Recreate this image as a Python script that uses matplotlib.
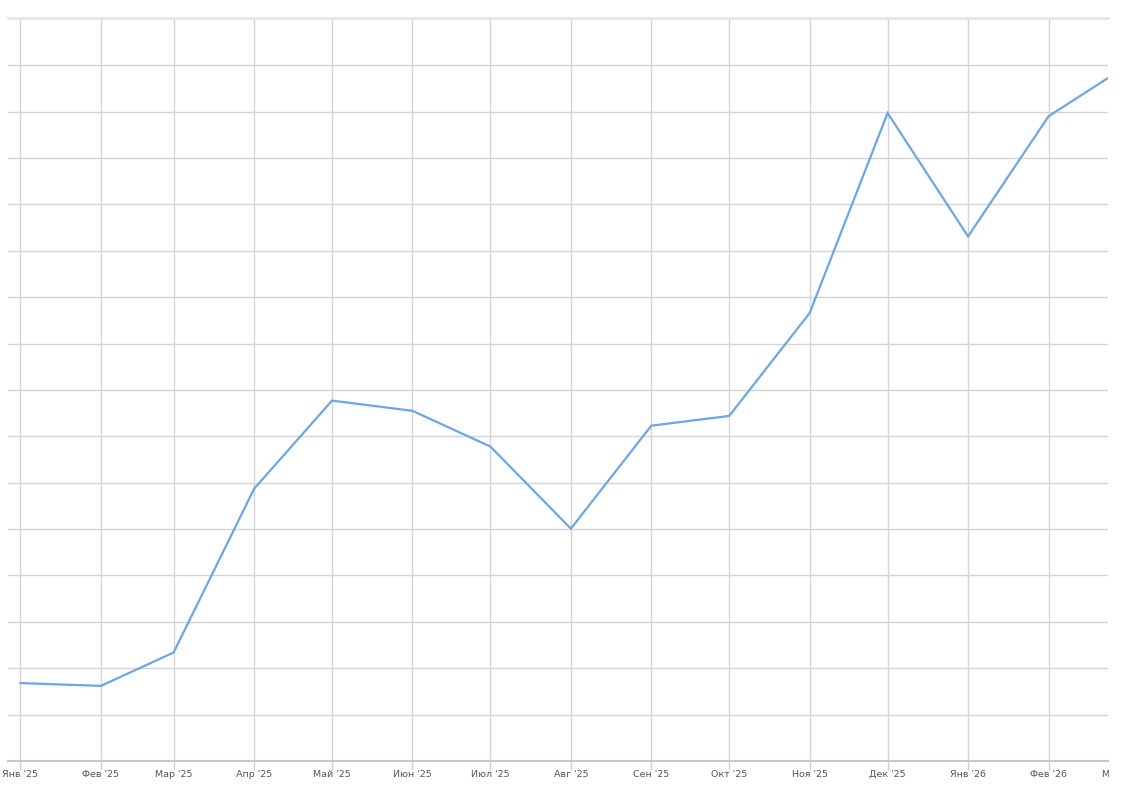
import matplotlib
matplotlib.use("Agg")
import matplotlib.pyplot as plt
import matplotlib.dates as mdates
from matplotlib.transforms import Bbox, TransformedBbox, blended_transform_factory
from datetime import datetime, timedelta

# Data (values in grid units; the original chart shows no y labels)
dates = ["2025-01-01", "2025-02-01", "2025-03-01", "2025-04-01", "2025-05-01",
         "2025-06-01", "2025-07-01", "2025-08-01", "2025-09-01", "2025-10-01",
         "2025-11-01", "2025-12-01", "2026-01-01", "2026-02-01", "2026-03-01"]
values = [1.68, 1.62, 2.34, 5.87, 7.77, 7.55, 6.78, 5.01, 7.23, 7.44,
          9.66, 13.97, 11.31, 13.90, 14.91]
tick_labels = ["Янв '25", "Фев '25", "Мар '25", "Апр '25", "Май '25", "Июн '25",
               "Июл '25", "Авг '25", "Сен '25", "Окт '25", "Ноя '25", "Дек '25",
               "Янв '26", "Фев '26", "Мар '26"]

x = [datetime.strptime(d, "%Y-%m-%d") for d in dates]

W, H = 1124, 786
fig = plt.figure(figsize=(W / 100, H / 100), dpi=100)
fig.patch.set_facecolor("white")
ax = fig.add_axes([8 / W, (H - 761) / H, (1108 - 8) / W, (761 - 17.5) / H])

ax.plot(x, values, color="#6ea5e4", lw=1.6, solid_joinstyle="miter", zorder=3)

ax.set_xticks(x[:-1])
ax.set_xticklabels(tick_labels[:-1])
ax.set_yticks(range(1, 16))
ax.set_yticklabels([])
ax.set_xlim(x[0] - timedelta(days=4.8), x[-2] + timedelta(days=22.9))
ax.set_ylim(0, 16.03)

ax.grid(True, axis="both", color="#d4d4d8", lw=1.0, zorder=0)
ax.tick_params(axis="x", length=6.5, width=1.0, color="#d0d0d4", pad=0.0,
               labelsize=6.8, labelcolor="#555555")
ax.tick_params(axis="y", length=0)

for s in ["left", "right"]:
    ax.spines[s].set_visible(False)
ax.spines["top"].set_color("#e6e6e8")
ax.spines["top"].set_linewidth(2.0)
ax.spines["bottom"].set_color("#c8c8cc")
ax.spines["bottom"].set_linewidth(1.5)

# last month label lies past the right edge and is clipped there, as in the original
clip = TransformedBbox(Bbox([[0, 0], [1109 / W, 1]]), fig.transFigure)
trans = blended_transform_factory(ax.transData, ax.transAxes)
first = ax.get_xticklabels()[0]
t = ax.text(mdates.date2num(x[-1]), -0.0175, tick_labels[-1], transform=trans,
            ha="center", va="center", fontsize=6.8, color="#555555")
t.set_clip_path(None)
t.set_clip_on(True)
t.set_clip_box(clip)

fig.savefig("out.png", dpi=100, facecolor="white")
